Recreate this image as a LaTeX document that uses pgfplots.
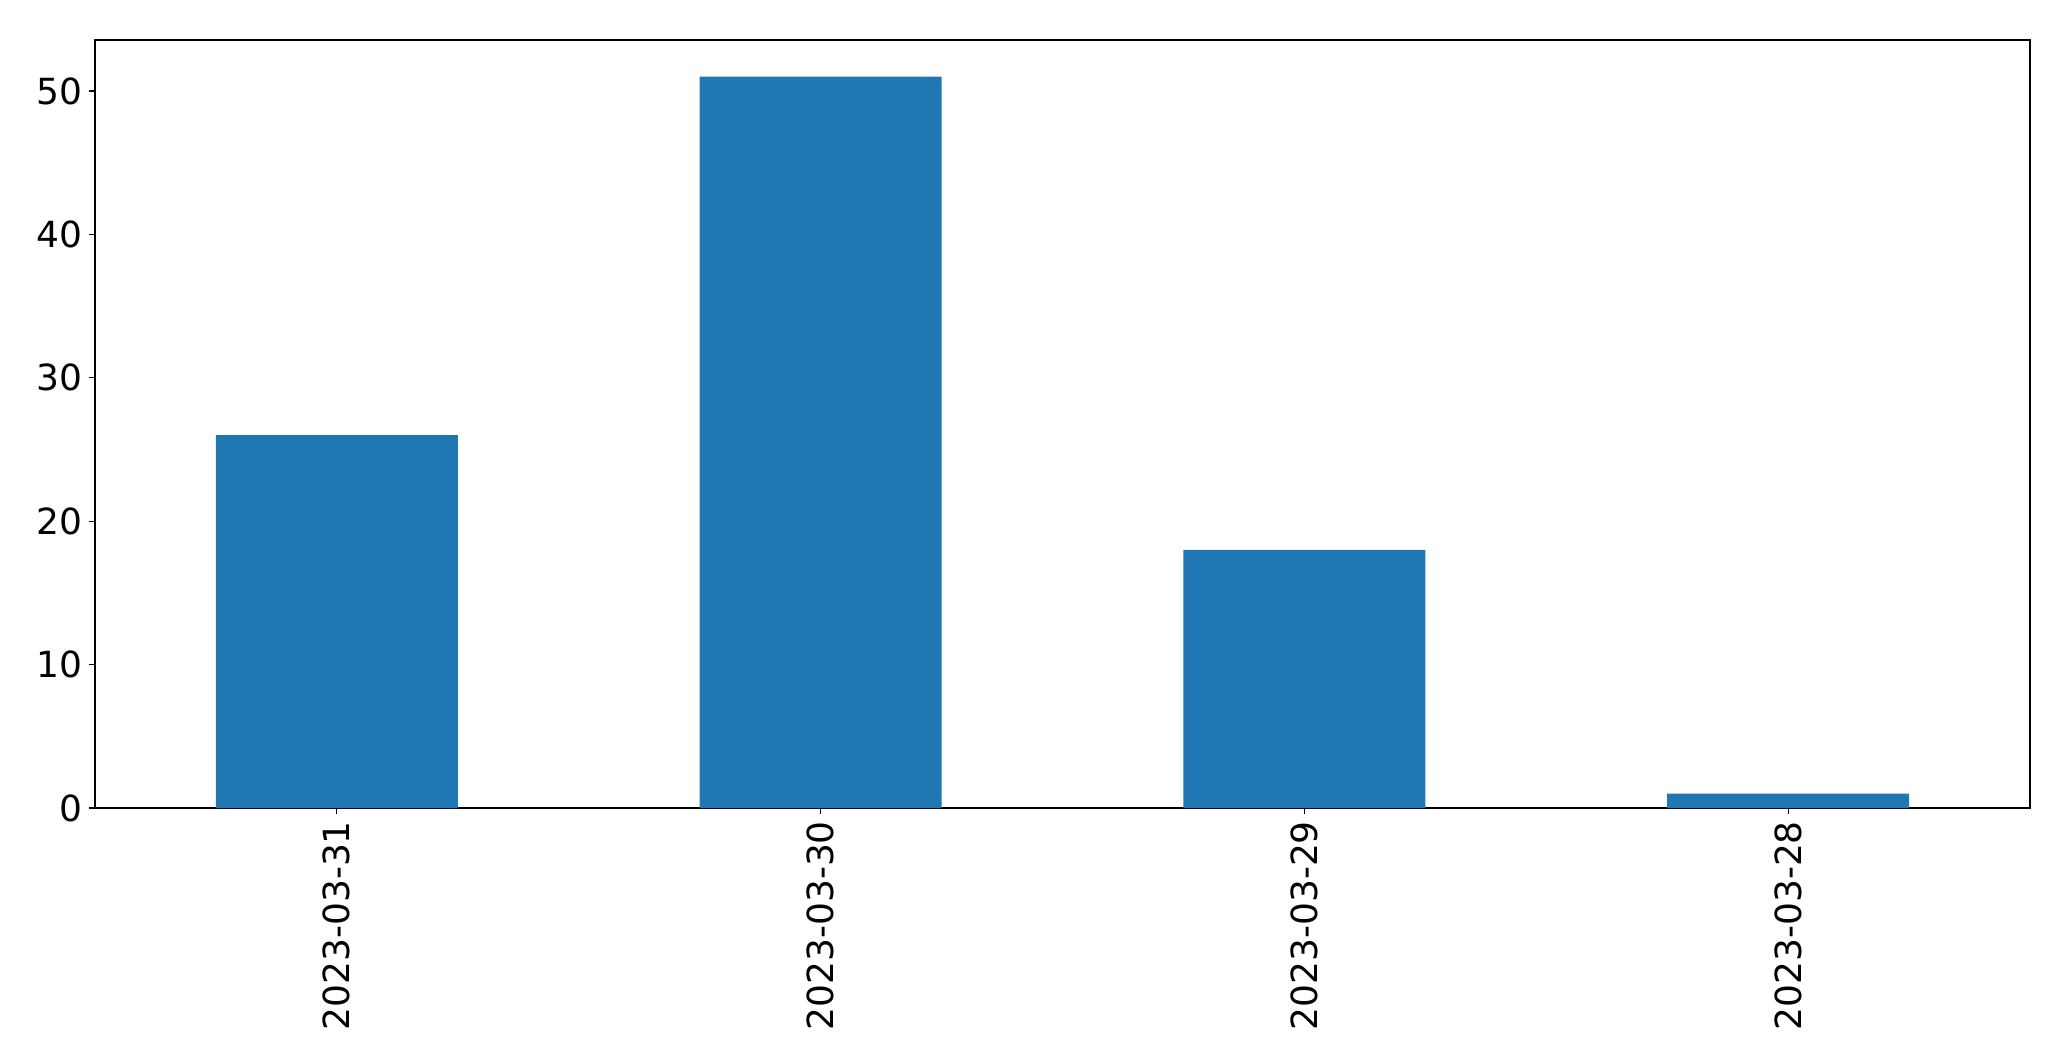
\documentclass[border=0pt]{standalone}
\usepackage{pgfplots}
\pgfplotsset{compat=1.18}
\usepackage{fontspec}
\setmainfont{DejaVu Sans}
\definecolor{mplblue}{HTML}{1F77B4}
\begin{document}
\begin{tikzpicture}
\begin{axis}[
  scale only axis,
  width=967.5pt, height=384pt,
  xmin=-0.5, xmax=3.5,
  ymin=0, ymax=53.55,
  xtick={0,1,2,3},
  xticklabels={2023-03-31,2023-03-30,2023-03-29,2023-03-28},
  xticklabel style={rotate=90, anchor=east, font=\fontsize{18}{20}\selectfont},
  ytick={0,10,20,30,40,50},
  yticklabel style={font=\fontsize{18}{20}\selectfont},
  /pgf/number format/assume math mode=true,
  tick align=outside,
  tick pos=left,
  major tick length=3pt,
  axis line style={line width=0.6pt},
  every tick/.style={black, line width=0.6pt},
  ybar, bar width=0.5,
  axis on top=false,
]
\addplot[fill=mplblue, draw=none] coordinates {(0,26) (1,51) (2,18) (3,1)};
\end{axis}
\pgfresetboundingbox
\path[use as bounding box] (-47.5pt,-126.5pt) rectangle (988pt,404pt);
\end{tikzpicture}
\end{document}
